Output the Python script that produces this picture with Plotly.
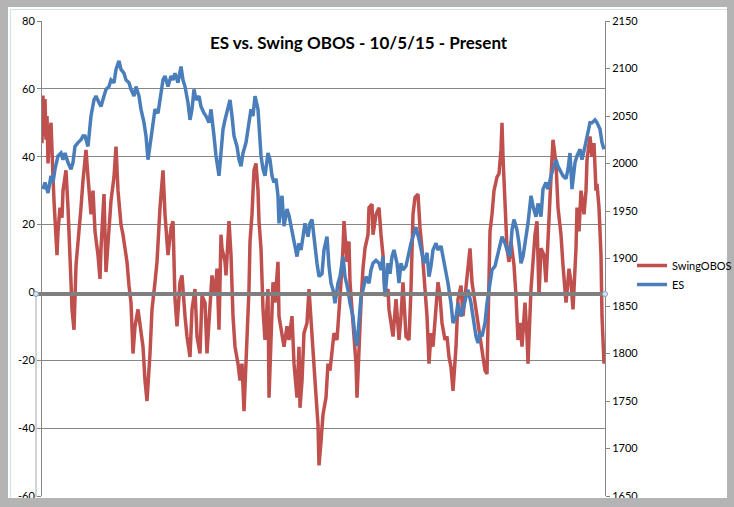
import plotly.graph_objects as go

swing_t = [0,1,2,3,4,5,6,7,9,10,11,12,13,14,15,16,18,20,21,23,24,26,28,29,30,32,34,36,39,41,44,46,49,51,53,56,58,59,62,64,67,69,72,74,76,79,81,83,85,87,89,91,93,96,99,101,103,105,108,110,113,115,118,120,121,123,126,129,131,133,135,138,140,143,145,148,150,153,155,158,160,163,165,168,170,173,175,177,179,180,183,184,187,189,191,193,196,198,200,202,205,207,208,210,212,214,216,217,219,221,223,226,227,229,231,233,236,237,240,242,245,247,250,252,255,257,258,260,262,265,267,269,271,273,276,277,279,281,284,286,288,290,292,295,297,299,301,302,305,307,308,310,312,314,315,317,319,321,323,326,327,330,331,334,337,339,341,343,346,347,349,351,354,357,359,361,364,367,369,371,373,376,378,380,383,385,387,389,391,394,396,398,400,403,405,407,409,411,414,416,419,421,424,426,428,430,433,435,438,440,443,445,446,448,450,452,455,457,459,460,461,463,465,467,469,472,474,476,478,480,483,485,486,489,491,493,495,497,499,502,504,506,508,509,511,514,516,519,521,524,525,527,529,531,534,535,537,539,542,544,545,548,550,552,554,555,557,559,560,562]
swing_v = [44,58,46,57,45,52,38,44,50,36,34,27,20,15,11,18,25,22,30,34,36,25,13,3,-5,-11,8,14,25,33,42,34,23,30,18,11,4,13,29,6,17,27,34,43,30,20,17,13,9,2,-3,-18,-10,-5,-12,-16,-26,-32,-18,-5,3,9,25,34,36,23,11,19,21,-2,-10,3,5,-7,-13,-19,-5,1,-13,-18,-1,-3,-18,-4,5,-1,7,-11,17,13,9,5,21,11,-7,-16,-21,-26,-21,-35,-16,1,15,23,36,38,30,21,13,-5,-14,1,-31,-16,3,-3,9,-7,-12,-16,-10,-14,-7,-21,-31,-16,-34,-26,-12,-9,1,-7,-16,-26,-39,-51,-44,-36,-31,-21,-23,-16,-12,-14,-7,3,13,21,9,15,3,-5,-13,-21,-31,-16,-3,7,13,17,25,26,17,23,25,17,11,-1,1,-5,-10,-13,-2,-14,-7,3,-13,-14,1,23,28,29,19,13,1,-7,-21,-12,-16,-4,3,-1,-9,-14,-13,-19,-22,-29,-16,-2,2,-7,1,8,13,3,-3,-7,-13,-16,-23,-24,-12,18,23,30,34,35,42,50,40,28,13,9,15,8,-1,-14,-9,-16,-3,-13,-21,1,11,17,21,-1,13,11,3,17,25,34,45,38,25,17,8,-3,0,7,3,-5,13,25,18,30,23,30,39,46,40,44,30,32,25,11,-7,-21]

es_t = [1,3,6,9,11,13,16,19,21,23,26,29,31,33,36,39,41,43,46,48,49,52,54,57,59,62,64,67,69,72,74,77,79,82,84,87,89,92,94,97,99,102,104,106,109,111,113,116,119,121,123,126,129,131,133,136,139,141,143,146,148,150,152,154,157,159,162,164,167,169,172,174,177,179,181,183,186,188,190,192,195,197,199,201,204,207,209,211,213,216,217,219,221,223,226,228,230,232,234,236,237,240,242,245,247,250,252,255,257,259,261,263,266,268,270,272,275,277,280,282,285,287,289,291,293,296,298,301,303,306,308,311,313,315,317,319,321,324,327,329,331,334,337,339,341,343,346,348,350,352,355,357,359,361,364,367,369,371,374,377,379,382,385,387,389,391,394,396,399,401,404,406,409,411,414,416,419,421,424,426,429,431,434,436,438,440,443,445,448,450,453,455,458,460,463,465,468,470,472,475,477,479,481,484,486,489,491,494,496,499,501,504,506,509,511,514,516,519,521,524,526,528,530,533,535,538,540,543,545,548,550,553,555,558,560,562]
es_v = [1973,1980,1969,1987,1980,1994,2008,2011,2004,2011,2001,1994,2001,2018,2022,2025,2029,2029,2018,2036,2050,2067,2071,2064,2060,2071,2078,2081,2088,2085,2099,2108,2099,2095,2088,2085,2078,2071,2081,2071,2057,2043,2029,2004,2029,2043,2057,2053,2074,2088,2092,2081,2092,2088,2095,2085,2102,2088,2081,2064,2046,2057,2078,2067,2071,2060,2053,2050,2043,2057,2029,2008,1987,2015,2036,2046,2057,2067,2050,2029,2018,2004,1997,2011,2022,2043,2057,2050,2071,2057,2043,2008,1994,1987,2011,2004,1987,1980,1984,1966,1937,1966,1934,1952,1945,1930,1916,1902,1916,1909,1923,1937,1923,1937,1941,1920,1895,1881,1884,1909,1923,1892,1874,1867,1853,1874,1881,1902,1881,1867,1853,1839,1818,1808,1833,1860,1867,1881,1874,1888,1895,1898,1895,1888,1902,1860,1895,1884,1902,1909,1895,1874,1895,1888,1892,1909,1916,1923,1933,1920,1909,1895,1906,1881,1892,1909,1916,1909,1913,1902,1884,1874,1853,1832,1839,1853,1839,1846,1860,1867,1853,1839,1818,1811,1822,1818,1832,1853,1874,1888,1892,1902,1916,1923,1916,1909,1902,1930,1941,1930,1916,1895,1902,1923,1937,1966,1955,1944,1958,1944,1973,1980,1973,1987,1994,2004,1997,1990,1987,1984,1994,2011,1973,2001,2008,2015,2004,2018,2029,2043,2043,2046,2043,2036,2022,2015]

title_text = "ES vs. Swing OBOS - 10/5/15 - Present"
left_ticks = [80, 60, 40, 20, 0, -20, -40, -60]
right_ticks = [2150, 2100, 2050, 2000, 1950, 1900, 1850, 1800, 1750, 1700, 1650]

RED = "#C0504D"
BLUE = "#4A7EBB"
GRID = "#868686"
FONT = "Lato"

W, H = 734, 507
L, R, T, B = 42, 605, 21, 496


def px(x):
    return (x - L) / (R - L)


def py(y):
    return (B - y) / (B - T)


fig = go.Figure()
fig.add_trace(go.Scatter(x=swing_t, y=swing_v, mode="lines", name="SwingOBOS",
                         line=dict(color=RED, width=3.5)))
fig.add_trace(go.Scatter(x=es_t, y=es_v, mode="lines", name="ES", yaxis="y2",
                         line=dict(color=BLUE, width=3.5)))

shapes = []
# zero line + handle line
shapes.append(dict(type="line", xref="paper", yref="paper", x0=px(36), x1=px(605),
                   y0=py(294), y1=py(294), line=dict(color="#7F7F7F", width=4), layer="above"))
shapes.append(dict(type="line", xref="paper", yref="paper", x0=px(36), x1=px(36),
                   y0=py(294), y1=py(497), line=dict(color="#A6A6A6", width=1), layer="above"))
for cx in (36, 605):
    shapes.append(dict(type="circle", xref="paper", yref="paper", x0=px(cx - 2.5), x1=px(cx + 2.5),
                       y0=py(294 + 2.5), y1=py(294 - 2.5),
                       line=dict(color="#7FA1C9", width=1), fillcolor="#DCE6F2", layer="above"))
# outer frame (gray window border)
frame_col = "#B4B4B4"
for (x0, y0, x1, y1) in [(0, 0, 8, 507), (727, 0, 734, 507), (0, 0, 734, 7), (0, 498, 734, 507)]:
    shapes.append(dict(type="rect", xref="paper", yref="paper", x0=px(x0), x1=px(x1),
                       y0=py(y1), y1=py(y0), line=dict(width=0), fillcolor=frame_col, layer="above"))
shapes.append(dict(type="line", xref="paper", yref="paper", x0=px(10.5), x1=px(10.5),
                   y0=py(9), y1=py(498), line=dict(color="#CFE3EE", width=1), layer="above"))
shapes.append(dict(type="line", xref="paper", yref="paper", x0=px(10), x1=px(727),
                   y0=py(9.5), y1=py(9.5), line=dict(color="#CFE3EE", width=1), layer="above"))

fig.update_layout(
    width=W, height=H, autosize=False,
    margin=dict(l=L, r=W - R, t=T, b=H - B, pad=0, autoexpand=False),
    paper_bgcolor="white", plot_bgcolor="white",
    font=dict(family=FONT, size=11, color="black"),
    showlegend=True,
    legend=dict(x=px(632), y=py(251), xanchor="left", yanchor="top",
                bgcolor="rgba(0,0,0,0)", font=dict(family=FONT, size=11),
                tracegroupgap=0, itemwidth=30, borderwidth=0),
    xaxis=dict(range=[0, 563], showgrid=False, zeroline=False, showticklabels=False,
               ticks="", showline=False, automargin=False),
    yaxis=dict(range=[-60, 80], tickvals=left_ticks, ticktext=[str(v) for v in left_ticks],
               showgrid=True, gridcolor=GRID, gridwidth=1, zeroline=False,
               showline=True, linecolor=GRID, linewidth=1, mirror=False, automargin=False,
               ticks="outside", ticklen=4, tickcolor=GRID, tickfont=dict(size=11)),
    yaxis2=dict(range=[1650, 2150], tickvals=right_ticks, ticktext=[str(v) for v in right_ticks],
                overlaying="y", side="right", showgrid=False, zeroline=False, automargin=False,
                showline=True, linecolor=GRID, linewidth=1,
                ticks="outside", ticklen=4, tickcolor=GRID, tickfont=dict(size=11)),
    shapes=shapes,
    annotations=[dict(text="<b>" + title_text + "</b>", xref="paper", yref="paper",
                      x=px(359), y=py(42), xanchor="center", yanchor="middle",
                      showarrow=False, font=dict(family=FONT, size=17, color="black"))],
)

fig.write_html("out.html", config={"displayModeBar": False},
               post_script="document.body.style.margin='0px';document.body.style.overflow='hidden';")
